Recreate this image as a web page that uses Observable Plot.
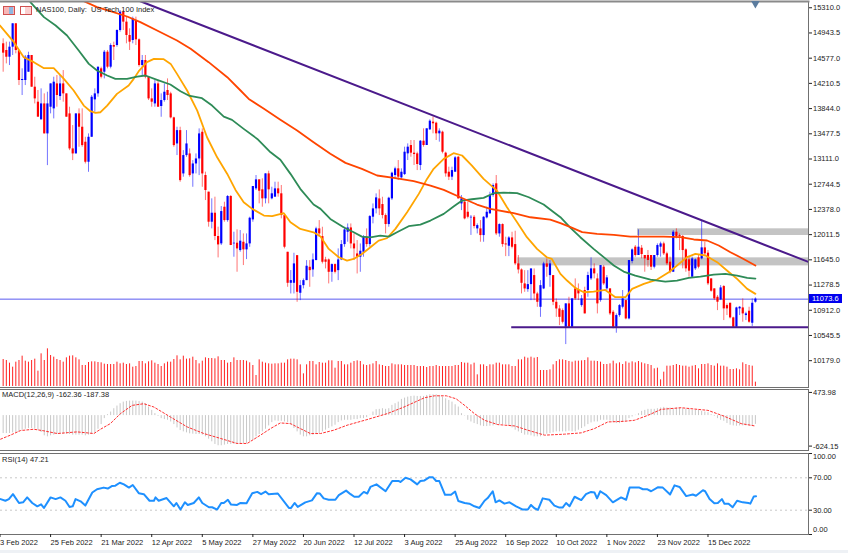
<!DOCTYPE html>
<html><head><meta charset="utf-8">
<script src="https://cdn.jsdelivr.net/npm/d3@7"></script>
<script src="https://cdn.jsdelivr.net/npm/@observablehq/plot@0.6"></script>
<style>
html,body{margin:0;padding:0;background:#fff}
#chart{position:relative;width:848px;height:553px;overflow:hidden;background:#fff;font-family:"Liberation Sans",sans-serif}
.lbl{position:absolute;font:7.5px "Liberation Sans",sans-serif;color:#222;white-space:pre;line-height:10px}
</style></head><body><div id="chart"></div>
<script>
const opens=[14786,14689,14591,14737,15077,14689,14252,14252,14373,14616,14155,13937,13680,13912,13476,13864,13840,14203,14019,14203,14058,13767,13258,13185,13767,13573,13355,13064,13427,13971,14058,14422,14373,14664,14446,14761,14761,14979,15246,15101,14907,14834,15125,14844,14470,14543,14300,13985,13912,14203,13874,13961,14107,14058,13709,13330,13524,12894,13161,13185,12894,13039,13112,13500,12871,12629,12192,12323,11984,11877,12410,12216,12566,11877,11887,11780,11901,11790,11877,12226,12677,12808,12663,12532,12895,12532,12556,12677,12605,
12289,11755,11304,11304,11706,11159,11270,11343,11537,11498,11634,12095,11983,11644,11644,11464,11576,11488,11644,11867,12046,12109,11876,11731,11683,11755,11974,11867,12265,12386,12531,12449,12289,12158,12531,12871,12968,12837,12885,13186,13307,13196,13186,13016,13370,13307,13535,13647,13632,13477,13501,13196,12919,12847,12919,13137,12458,12483,12337,12255,12264,12095,12095,11998,12255,12313,12580,12750,12022,12158,11876,11843,11964,11867,11586,11498,11295,11212,11285,11416,11149,10955,11222,11586,11416,11416,11028,10931,10907,
10665,11005,10665,11223,11199,10980,11199,11199,11368,11514,11368,11053,11538,11223,11223,10883,10665,10835,10956,11053,10786,11620,11829,11708,11814,11708,11708,11708,11538,11708,11829,11877,11732,11611,11465,12047,11999,11984,11790,11645,11392,11514,11674,11659,11819,11742,11368,11223,11101,11063,11257,10980,11014,10801,10665,10932,10946,10835,10898,10723,11029];
const closes=[14650,14591,14737,15077,14689,14252,14267,14591,14616,14155,13985,13719,13912,13476,13912,14203,14228,14034,14203,14058,13719,13258,13185,13767,13573,13306,13064,13427,14009,14058,14446,14300,14664,14446,14761,14737,14979,15246,15101,14907,14810,15149,14844,14470,14543,14300,13985,13937,14203,13864,13961,14082,14034,13709,13306,13524,12797,13161,13330,12870,13039,13112,13476,12894,12653,12192,12323,11984,11862,12347,12216,12566,11853,11887,11804,11916,11790,11877,12250,12711,12808,12643,12532,12895,12663,12605,12677,12605,12289,
11828,11304,11343,11586,11173,11270,11343,11552,11488,11644,12095,12022,11610,11610,11464,11576,11464,11644,11867,12080,12109,11876,11804,11683,11770,11974,11867,12274,12386,12546,12386,12289,12158,12541,12905,12968,12847,12919,13210,13283,13196,13176,13031,13370,13307,13550,13661,13623,13477,13516,13210,12895,12847,12943,13128,12531,12531,12240,12264,12264,12129,12143,11998,12264,12337,12580,12725,12022,12158,11867,11862,11964,11828,11586,11498,11304,11222,11285,11513,11149,11028,11270,11586,11537,11586,11028,10931,10809,10737,
11005,10665,11077,11077,11150,11077,10859,11417,11514,11441,11005,11562,11295,11383,10859,10665,10835,10980,11077,10786,11635,11790,11708,11829,11722,11659,11635,11538,11708,11853,11877,11732,11587,11465,12047,11975,11984,11780,11514,11480,11659,11645,11538,11819,11732,11296,11189,11077,11029,11237,10932,10932,10801,10665,10946,10956,10859,10859,10738,11014,11074];
const highs=[14858,14810,14810,15077,15077,14689,14422,14616,14664,14616,14300,14107,14131,14058,14082,14203,14300,14325,14325,14397,14058,13864,13597,13767,13840,13840,13427,13476,14034,14131,14446,14446,14689,14689,14786,14810,14989,15270,15270,15174,15004,15174,15174,14858,14616,14616,14310,14131,14252,14252,14058,14203,14276,14082,13719,13573,13573,13233,13524,13258,13088,13185,13549,13549,12920,12629,12532,12556,12120,12420,12483,12580,12580,12047,12081,12071,12022,12022,12265,12711,12871,12808,12823,12895,12934,12701,12774,12774,12726,
12313,11755,11489,11741,11706,11343,11367,11634,11634,11731,12119,12216,12119,11682,11658,11586,11586,11804,11925,12119,12167,12167,12022,11925,11876,11998,12095,12289,12458,12604,12662,12555,12313,12555,12919,12992,13089,12968,13283,13331,13380,13380,13210,13380,13550,13550,13681,13720,13647,13550,13516,13210,12992,12992,13147,13147,12580,12507,12483,12289,12289,12168,12216,12274,12410,12628,12750,12871,12168,12168,11974,11983,12046,12061,11707,11513,11488,11488,11513,11513,11173,11343,11610,11658,11634,11416,11076,10979,10931,
11005,11101,11077,11368,11295,11126,11247,11465,11674,11587,11441,11562,11562,11417,11223,10907,10859,10995,11199,11053,11635,11805,11853,12081,11853,11708,11781,11708,11708,11877,11902,11902,11756,11684,12071,12096,12023,11999,11805,11684,11684,11659,11708,12207,11902,11780,11368,11223,11126,11271,11271,11005,11014,10811,10956,10966,11077,10883,10956,11077,11092];
const lows=[14373,14494,14470,14616,14640,14179,14034,14179,14373,14155,13912,13719,13680,13476,13015,13767,13694,13864,13961,13937,13719,13233,13088,13185,13282,13282,13039,12918,13427,13791,14009,14276,14276,14422,14422,14543,14737,14955,14979,14786,14689,14786,14761,14446,14325,14276,13961,13864,13864,13864,13718,13937,13961,13694,13282,13161,12773,12846,13136,12846,12700,12894,12870,12700,12507,12120,12095,11925,11673,11853,12192,12192,11853,11683,11465,11756,11562,11649,11828,12192,12653,12459,12410,12459,12459,12517,12556,12556,12241,
11804,11246,11149,11149,11028,11052,11222,11343,11246,11392,11634,11974,11585,11513,11295,11319,11440,11343,11634,11828,11901,11804,11634,11440,11464,11683,11828,11828,12168,12313,12289,12240,12022,12119,12507,12822,12798,12798,12871,13089,13137,13016,12943,12943,13283,13307,13526,13477,13380,13356,13186,12847,12798,12798,12919,12531,12361,12226,12240,12000,12095,12022,11901,11901,12240,12313,12555,11998,11974,11828,11692,11692,11804,11561,11440,11149,11173,11173,11052,11052,10955,10809,11212,11392,11246,10979,10809,10688,10713,
10413,10665,10665,11053,11053,10956,10859,11101,11344,11368,10859,11029,11271,11199,10835,10641,10578,10811,10932,10772,10772,11587,11684,11708,11659,11465,11538,11490,11514,11684,11684,11708,11562,11441,11465,11950,11780,11514,11465,11392,11383,11490,11514,11645,11708,11271,11174,11053,10907,11053,10762,10835,10786,10665,10665,10835,10738,10762,10723,10675,11014];
const tickVolume=[81,78,70,58,73,78,91,76,73,78,82,46,98,78,113,93,88,81,78,73,86,91,92,86,80,63,63,72,74,74,72,71,67,66,66,66,73,68,70,66,68,58,60,75,75,68,74,77,70,66,60,68,73,73,81,92,80,91,82,83,88,78,68,76,86,84,84,83,89,78,78,70,72,86,78,78,78,76,71,63,33,80,73,70,68,67,68,68,70,
70,80,82,82,80,65,38,65,75,75,65,72,70,70,77,77,55,75,75,65,65,70,75,77,75,65,63,65,68,75,65,63,60,60,68,65,65,65,63,63,63,63,60,60,60,57,60,60,63,60,60,60,60,60,63,63,72,70,70,65,70,35,65,65,60,65,65,70,70,65,65,65,60,60,80,80,88,85,88,85,87,48,48,48,50,65,75,80,80,
78,75,73,76,76,77,78,86,76,76,75,73,66,66,68,76,68,71,66,74,70,74,71,75,71,68,66,63,53,55,20,43,61,61,63,66,63,61,61,58,61,63,53,66,66,68,63,61,68,61,61,58,51,51,53,50,71,66,63,61,13];
const macdMain=[-367,-367,-367,-353,-346,-333,-299,-279,-265,-265,-272,-299,-346,-414,-434,-414,-400,-387,-380,-380,-380,-387,-400,-400,-400,-400,-414,-400,-387,-353,-279,-184,-62,19,73,141,195,243,276,290,297,297,297,290,276,243,175,107,40,-15,-62,-82,-96,-130,-184,-252,-306,-333,-353,-373,-380,-387,-387,-400,-434,-482,-536,-590,-617,-617,-604,-590,-590,-590,-583,-577,-570,-570,-536,-502,-434,-387,-333,-279,-211,-143,-109,-116,-116,-130,-143,-197,-265,-333,-400,-434,-434,-414,-400,-387,-367,-333,-299,-265,-231,-197,-143,-109,-96,-96,-96,-82,-82,-62,-62,-42,6,73,121,128,141,128,141,209,243,276,331,358,378,392,398,392,392,392,412,425,425,425,412,378,344,310,276,222,175,40,-8,-96,-130,-163,-184,-211,-224,-224,-218,-211,-197,-184,-184,-184,-211,-252,-299,-333,-367,-400,-400,-414,-434,-434,-434,-400,-380,-367,-353,-333,-333,-333,-333,-319,-333,-333,-299,-265,-231,-184,-150,-130,-130,-96,-96,-96,-109,-143,-163,-163,-143,-116,-62,-28,6,40,87,107,128,128,128,141,155,168,155,155,141,155,155,141,128,128,107,107,107,87,73,60,19,-15,-62,-96,-116,-163,-197,-211,-218,-211,-211,-211,-211,-211,-180];
const signalBars=[0.2,3.3,6.5,10.7,13.9,18.1,24.4,29.7,31.8,34.9,38.1,41.8,45.5,48.7,53.9,59.2,64.5,69.8,75,78.2,82.4,85.6,88.7,91.9,95,98.2,101.4,105.6,109.8,116.1,122.5,127.8,134.3,137.5,141.2,144.3,147,150.1,153.3,157.5,162.8,167,172.3,178.6,183.9,188.1,192.3,197.6,200.7,205,209.2,215.5,224,229.2,234.5,238.7];
const signalVals=[-482,-400,-306,-279,-312,-367,-333,-367,-279,-164,40,209,243,175,-28,-231,-367,-468,-570,-570,-400,-265,-150,-164,-265,-367,-367,-299,-197,-82,40,175,365,405,405,344,209,40,-96,-184,-211,-299,-400,-380,-353,-265,-130,-116,-96,6,128,161,107,-15,-164,-210];
const rsiBars=[0.2,1.7,2.8,4.1,6,7.3,8.6,10.2,11.8,13,13.9,16,17.6,19.1,20.7,22,23,23.9,25.5,27,29.2,30.7,32.8,34.1,35.5,36.5,37.9,39.2,40.8,42,43.9,45.5,47.3,48.7,49.2,50.2,52.7,55,55.8,57.1,58.5,59.4,61.3,62.9,64,66.1,67.1,68.7,70,70.8,72.1,73.1,75,76.1,78,79.8,81.4,82.6,84,85,87.9,91.4,92.1,93.2,94.2,96.6,98.7,100.3,101.2,102.4,104,106.1,107.2,109.5,110.9,112.1,113.5,115.1,116.2,117.2,119.1,122,124.1,126.2,126.7,128.3,129.9,132,133,134.3,135.9,136.9,138,139,140.8,142.7,144,145,147,148.5,150.1,151.7,153.3,154.3,155.9,156.8,158,159.6,161.2,163.3,165.4,167,168,169.1,170.2,171.7,173.8,175.4,177,178,179.1,180.2,181.8,183.9,185.4,187,188.1,188.9,189.9,191.8,193.9,196.5,198.1,199.2,202.3,203.4,204.7,206,208.1,209.7,212,213.4,215,217.1,219.2,220.2,222.4,223.1,224.5,226,227.1,228.4,229.2,230.5,231.8,233.2,235,236.8,237.4,238.5,239.2];
const rsiVals=[43.7,41.7,43.7,49.8,38.9,39.7,45.8,38.9,34.8,37.3,32.8,45.8,43.7,45.8,41.7,34,34.8,43.7,40.9,35.7,51.8,55.9,57.9,56.7,59.9,60.3,63.9,61.9,57.9,61.1,51,49.8,41.7,41.7,45.8,41.7,45,34.8,38.9,30.8,39.7,36.5,38.9,45.8,38.9,33.6,33.6,30.8,38.9,38.9,42.9,36.9,36.5,38.9,38.5,51,52.6,49.8,53,49.8,50.6,32.8,32.8,38.9,34,39.7,42.1,51,50.6,44.6,42.9,42.9,48.6,54.2,49.8,46.6,46.6,52.6,50.6,58.7,61.9,53.4,66,66,64.8,70,68,61.9,66,66.8,70.8,70.8,66,66,49,49,53,41.3,38.9,38.1,34.8,32.8,41.7,45,53.4,39.7,42.1,38.1,39.7,34.8,30.8,30.8,36.5,32.4,30.4,44.6,42.9,35.7,33.2,33.2,38.9,34.8,46.6,42.5,49.8,52.6,51.8,44.6,53.4,48.6,39.7,45.8,42.9,57.9,57.9,55.9,55.9,53.4,58.3,57.9,49.4,60.7,58.7,47.4,49.4,47.8,54.6,53.4,43.7,38.5,38.9,43.7,38.1,38.1,33.6,41.7,39.7,38.9,38.1,47,47.21];
const orangeBars=[0,4.4,7.5,10.7,13.9,17,20.2,23.3,26.5,28.6,30.2,31.8,33.9,37,40.7,42.3,43.9,46.5,48.7,51.8,54,56,59.2,62.4,65.5,68.7,71.9,74.5,77.1,79.8,83.5,86.1,89.8,91.9,95,99.2,101.4,104,107.2,109.8,111.9,114.5,117.2,119.8,122.4,125.1,128.8,132.5,135.1,137.2,140.4,143.5,146.2,149.3,153,157.2,160.4,163.6,166.7,169.9,173,174.6,177.3,179.4,182,184.7,187.8,191.5,194.7,197.9,200,203.7,207.9,211.6,214.2,217.4,220,223.2,226.9,230,233.2,236.4,239];
const orangeVals=[15052,14810,14591,14519,14431,14431,14276,14107,13888,13806,13782,13791,13888,14058,14179,14276,14388,14519,14567,14562,14494,14349,14107,13815,13427,13136,12894,12661,12483,12386,12289,12280,12323,12192,12095,12046,11983,11804,11683,11634,11658,11731,11828,11925,11959,12095,12337,12604,12822,12968,13113,13196,13162,13016,12822,12652,12410,12192,11974,11804,11683,11658,11441,11344,11237,11174,11184,11208,11102,11102,11223,11296,11358,11465,11562,11684,11732,11708,11611,11490,11368,11223,11150];
const greenBars=[9.6,13.9,17.6,21.2,24.9,28.1,30.7,33.9,36.5,40.2,43.4,46,49.7,53.9,57.1,59.7,63.9,67.1,70.8,73.4,77.1,81.4,85.6,88.7,91.9,95,99.2,101.4,104.5,108.7,111.9,114.5,117.2,120.3,123,125.6,129.3,133,136.2,140.4,143.5,146.2,149.3,153,156.2,159.4,163.6,167.3,172,175.2,177.3,180.5,183.6,187.8,191,194.2,197.3,201,205.8,210.5,214.2,217.9,221.6,225.8,229.5,233.2,236.4,239];
const greenVals=[15392,15174,15052,14907,14689,14494,14397,14325,14276,14276,14310,14325,14262,14194,14097,14034,13995,13888,13728,13680,13549,13403,13209,13099,12895,12677,12449,12386,12240,12119,12046,11983,11973,11998,11983,12046,12134,12158,12216,12313,12420,12507,12526,12546,12614,12623,12614,12555,12449,12337,12265,12110,11974,11805,11684,11562,11475,11417,11358,11329,11344,11383,11402,11431,11441,11417,11383,11373];
const redBars=[26,30.7,34.9,40.2,44.4,49.7,56,60.3,66,71.9,76.1,78.7,83.5,88.7,94,99.2,104.5,109.3,114.5,119.3,124.6,130.9,136.2,140.4,145.6,150.9,155.1,162.5,167.8,174.1,177.3,180.5,184.2,188.9,194.2,199.4,204.7,210,215.3,219.5,223.7,227.4,231.1,234.8,239];
const redVals=[15416,15319,15261,15183,15101,14979,14834,14713,14519,14300,14107,13985,13840,13681,13526,13356,13186,13055,12968,12871,12837,12788,12725,12662,12555,12449,12386,12323,12264,12230,12178,12120,12047,12023,12008,11984,11984,11984,11975,11941,11926,11853,11756,11669,11562];
const trendBars=[43.8,255.8], trendVals=[15416,11614];
const supportBars=[161.9,255.8], supportVal=10665;
const zoneUpper={b1:201.7,b2:255.8,p1:11999,p2:12096};
const zoneLower={b1:163.8,b2:255.8,p1:11557,p2:11674};
const bidPrice=11073.6;
const priceTicks=[15310,14943.5,14577,14210.5,13844,13477.5,13111,12744.5,12378,12011.5,11645,11278.5,10912,10545.5,10179];
const macdTicks=[473.98,-624.15];
const rsiLevels=[70,30];
const rsiTicks=[100,70,30,0];
const dateBars=[0,16,32,48,64,80,96,112,128,144,160,176,192,208,224];
const dateLabels=["3 Feb 2022","25 Feb 2022","21 Mar 2022","12 Apr 2022","5 May 2022","27 May 2022","20 Jun 2022","12 Jul 2022","3 Aug 2022","25 Aug 2022","16 Sep 2022","10 Oct 2022","1 Nov 2022","23 Nov 2022","15 Dec 2022"];

const BLUE="#0000ff",RED="#ff0000",GRID="#707070";
const candles=opens.map((o,k)=>({i:k+1,o,c:closes[k],h:highs[k],l:lows[k]}));
const xDom=[0.155,255.8];
const base={width:848,height:553,marginLeft:0,marginRight:40,
  x:{domain:xDom,axis:null},
  style:{position:"absolute",left:0,top:0,background:"transparent",fontFamily:"'Liberation Sans',sans-serif",fontSize:"7.5px",color:"#222",overflow:"hidden",maxWidth:"none"}};
const zip=(b,v)=>b.map((x,k)=>({x,y:v[k]}));
const root=document.getElementById("chart");

// volume
root.append(Plot.plot({...base,marginTop:346,marginBottom:167,y:{domain:[0,120],axis:null},marks:[
  Plot.ruleX(tickVolume.map((v,k)=>({i:k+1,v})),{x:"i",y1:0,y2:"v",stroke:"#ff2222",strokeWidth:1})
]}));

// price
const main=Plot.plot({...base,marginTop:1,marginBottom:166,y:{domain:[9789,15401],axis:null},marks:[
  Plot.rect([zoneUpper,zoneLower],{x1:"b1",x2:"b2",y1:"p1",y2:"p2",fill:"#c4c4c4"}),
  Plot.ruleY([bidPrice],{stroke:"#5a5af0",strokeWidth:1}),
  Plot.ruleX(candles,{x:"i",y1:"l",y2:"h",stroke:d=>d.c>=d.o?BLUE:RED,strokeWidth:1,strokeOpacity:.55}),
  Plot.ruleX(candles,{x:"i",y1:"o",y2:"c",stroke:d=>d.c>=d.o?BLUE:RED,strokeWidth:2.2}),
  Plot.line(zip(orangeBars,orangeVals),{x:"x",y:"y",stroke:"#ffa500",strokeWidth:1.8,clip:true}),
  Plot.line(zip(greenBars,greenVals),{x:"x",y:"y",stroke:"#2e8b57",strokeWidth:1.8,clip:true}),
  Plot.line(zip(redBars,redVals),{x:"x",y:"y",stroke:"#ff4500",strokeWidth:1.8,clip:true}),
  Plot.line(zip(trendBars,trendVals),{x:"x",y:"y",stroke:"#4b1a8b",strokeWidth:2,clip:true}),
  Plot.ruleY([supportVal],{x1:supportBars[0],x2:supportBars[1],stroke:"#4b1a8b",strokeWidth:2}),
  Plot.frame({anchor:"right",stroke:GRID}),
  Plot.frame({anchor:"bottom",stroke:GRID}),
  Plot.frame({anchor:"top",stroke:"#8a8a8a",strokeWidth:2}),
  Plot.axisY(priceTicks,{anchor:"right",tickSize:3,tickFormat:d=>d.toFixed(1),label:null,tickPadding:1.5,fill:"#222"}),
  Plot.dot([{b:239}],{x:"b",y:15401,r:3.2,symbol:"triangle",rotate:180,fill:"#5b7c9e",dy:2})
]});
root.append(main);

// MACD
root.append(Plot.plot({...base,marginTop:389,marginBottom:103,y:{domain:[-714,534],axis:null},marks:[
  Plot.ruleX(macdMain.map((v,k)=>({i:k+1,v})),{x:"i",y1:0,y2:"v",stroke:"#c8c8c8",strokeWidth:1}),
  Plot.line(zip(signalBars,signalVals),{x:"x",y:"y",stroke:"#ff3030",strokeWidth:1,strokeDasharray:"2,2"}),
  Plot.frame({anchor:"right",stroke:GRID}),
  Plot.frame({anchor:"top",stroke:GRID}),
  Plot.frame({anchor:"bottom",stroke:GRID}),
  Plot.axisY(macdTicks,{anchor:"right",tickSize:3,tickFormat:d=>d.toFixed(2),label:null,tickPadding:1.5,fill:"#222"})
]}));

// RSI + date axis
root.append(Plot.plot({...base,marginTop:453,marginBottom:19,y:{domain:[0,100],axis:null},marks:[
  Plot.ruleY(rsiLevels,{stroke:"#c8c8c8",strokeDasharray:"2,3"}),
  Plot.line(zip(rsiBars,rsiVals),{x:"x",y:"y",stroke:"#1e90ff",strokeWidth:2}),
  Plot.frame({anchor:"right",stroke:GRID}),
  Plot.frame({anchor:"top",stroke:GRID}),
  Plot.frame({anchor:"bottom",stroke:GRID}),
  Plot.axisY(rsiTicks,{anchor:"right",tickSize:3,tickFormat:()=>"",label:null}),
  Plot.text(rsiTicks,{y:d=>d,text:d=>d.toFixed(2),frameAnchor:"right",textAnchor:"start",dx:4.5,fill:"#222",dy:0,filter:d=>d>0&&d<100}),
  Plot.text([100],{y:d=>d,text:d=>d.toFixed(2),frameAnchor:"right",textAnchor:"start",dx:4.5,dy:3.5,fill:"#222"}),
  Plot.text([0],{y:d=>d,text:d=>d.toFixed(2),frameAnchor:"right",textAnchor:"start",dx:4.5,dy:-4.5,fill:"#222"}),
  Plot.axisX(dateBars,{anchor:"bottom",tickSize:3,tickFormat:(d,k)=>dateLabels[k],label:null,textAnchor:"start",tickPadding:2.5,fill:"#222"})
]}));

// texts that sit on the panels
const lbl=(t,l,top,extra={})=>{const e=document.createElement("div");e.className="lbl";e.textContent=t;e.style.left=l+"px";e.style.top=top+"px";Object.assign(e.style,extra);root.append(e);};
lbl("NAS100, Daily:  US Tech 100 Index",36,5);
lbl("MACD(12,26,9) -162.36 -187.38",2,390);
lbl("RSI(14) 47.21",2,455);
const py=main.scale("y").apply(bidPrice);
lbl(bidPrice.toFixed(1),809,py-4.5,{background:"#0000ee",color:"#fff",padding:"0 3px",height:"9px",lineHeight:"9px"});
// toolbar icons & bottom strip
for(const [l,bg,bd] of [[3,"#f7b7b7","#d05050"],[20,"#fbd0d0","#d05050"]]){
  const e=document.createElement("div");
  e.style.cssText=`position:absolute;left:${l}px;top:6px;width:10px;height:7px;background:${bg};border:1px solid ${bd}`;
  const s=document.createElement("div");
  s.style.cssText=`position:absolute;left:${l==3?5:0}px;top:0;width:4px;height:7px;background:${l==3?"#8fb7e0":"#fff"}`;
  e.append(s);root.append(e);
}
const strip=document.createElement("div");
strip.style.cssText="position:absolute;left:0;top:550px;width:848px;height:3px;background:#eef1f5";
root.append(strip);
</script></body></html>
